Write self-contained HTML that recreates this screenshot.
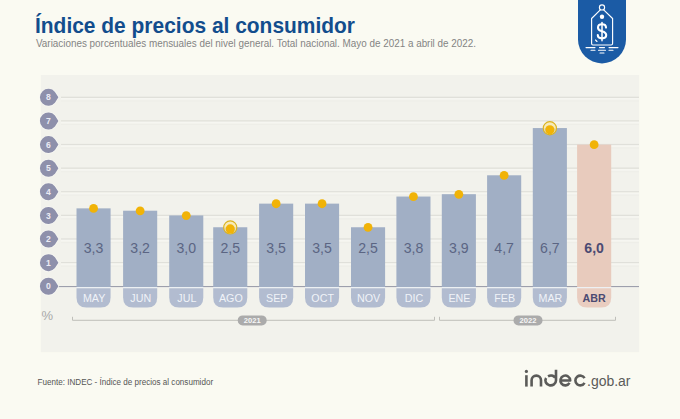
<!DOCTYPE html>
<html><head><meta charset="utf-8"><title>IPC</title>
<style>
html,body{margin:0;padding:0;background:#fafaf2;}
body{width:680px;height:419px;overflow:hidden;position:relative;font-family:"Liberation Sans",sans-serif;}
svg{position:absolute;left:0;top:0;display:block}
text{font-family:"Liberation Sans",sans-serif;}
</style></head><body>
<svg width="680" height="419" viewBox="0 0 680 419">
<defs><filter id="b" x="-5%" y="-5%" width="110%" height="110%"><feGaussianBlur stdDeviation="0.6"/></filter></defs>
<rect width="680" height="419" fill="#fafaf2"/>
<rect x="40.8" y="75" width="598.4" height="277.2" fill="#f2f2ec" filter="url(#b)"/>
<text x="35" y="33" font-size="22.2" font-weight="bold" fill="#124d8d" textLength="320" lengthAdjust="spacingAndGlyphs">Índice de precios al consumidor</text>
<text x="36" y="47.3" font-size="10.1" fill="#848484" textLength="440" lengthAdjust="spacingAndGlyphs">Variaciones porcentuales mensuales del nivel general. Total nacional. Mayo de 2021 a abril de 2022.</text>

<rect x="61" y="261.98" width="578" height="1.4" fill="#e0e0da"/><rect x="61" y="263.38" width="578" height="1.6" fill="#f6f6f1"/><rect x="61" y="265.68" width="578" height="1" fill="#eeeee8"/>
<rect x="61" y="238.36" width="578" height="1.4" fill="#e0e0da"/><rect x="61" y="239.76" width="578" height="1.6" fill="#f6f6f1"/><rect x="61" y="242.06" width="578" height="1" fill="#eeeee8"/>
<rect x="61" y="214.74" width="578" height="1.4" fill="#e0e0da"/><rect x="61" y="216.14" width="578" height="1.6" fill="#f6f6f1"/><rect x="61" y="218.44" width="578" height="1" fill="#eeeee8"/>
<rect x="61" y="191.12" width="578" height="1.4" fill="#e0e0da"/><rect x="61" y="192.52" width="578" height="1.6" fill="#f6f6f1"/><rect x="61" y="194.82" width="578" height="1" fill="#eeeee8"/>
<rect x="61" y="167.50" width="578" height="1.4" fill="#e0e0da"/><rect x="61" y="168.90" width="578" height="1.6" fill="#f6f6f1"/><rect x="61" y="171.20" width="578" height="1" fill="#eeeee8"/>
<rect x="61" y="143.88" width="578" height="1.4" fill="#e0e0da"/><rect x="61" y="145.28" width="578" height="1.6" fill="#f6f6f1"/><rect x="61" y="147.58" width="578" height="1" fill="#eeeee8"/>
<rect x="61" y="120.26" width="578" height="1.4" fill="#e0e0da"/><rect x="61" y="121.66" width="578" height="1.6" fill="#f6f6f1"/><rect x="61" y="123.96" width="578" height="1" fill="#eeeee8"/>
<rect x="61" y="96.64" width="578" height="1.4" fill="#e0e0da"/><rect x="61" y="98.04" width="578" height="1.6" fill="#f6f6f1"/><rect x="61" y="100.34" width="578" height="1" fill="#eeeee8"/>
<rect x="57" y="286.0" width="582" height="1.1" fill="#9d9fac"/>
<rect x="76.50" y="208.35" width="34.1" height="78.75" fill="#a1afc5"/>
<rect x="76.50" y="287.1" width="34.1" height="1.2" fill="#eef1f6"/>
<path d="M76.50 288.2 H110.60 V297.6 Q110.60 307.6 100.60 307.6 H86.50 Q76.50 307.6 76.50 297.6 Z" fill="#b2bcd0"/>
<text x="94.15" y="301.6" font-size="10.7" fill="#f0f3f8" text-anchor="middle">MAY</text>
<text x="93.55" y="253.0" font-size="14.1" fill="#5b6583" text-anchor="middle">3,3</text>
<rect x="123.10" y="210.72" width="34.1" height="76.38" fill="#a1afc5"/>
<rect x="123.10" y="287.1" width="34.1" height="1.2" fill="#eef1f6"/>
<path d="M123.10 288.2 H157.20 V297.6 Q157.20 307.6 147.20 307.6 H133.10 Q123.10 307.6 123.10 297.6 Z" fill="#b2bcd0"/>
<text x="140.75" y="301.6" font-size="10.7" fill="#f0f3f8" text-anchor="middle">JUN</text>
<text x="140.15" y="253.0" font-size="14.1" fill="#5b6583" text-anchor="middle">3,2</text>
<rect x="169.20" y="215.44" width="34.1" height="71.66" fill="#a1afc5"/>
<rect x="169.20" y="287.1" width="34.1" height="1.2" fill="#eef1f6"/>
<path d="M169.20 288.2 H203.30 V297.6 Q203.30 307.6 193.30 307.6 H179.20 Q169.20 307.6 169.20 297.6 Z" fill="#b2bcd0"/>
<text x="186.85" y="301.6" font-size="10.7" fill="#f0f3f8" text-anchor="middle">JUL</text>
<text x="186.25" y="253.0" font-size="14.1" fill="#5b6583" text-anchor="middle">3,0</text>
<rect x="213.20" y="227.25" width="34.1" height="59.85" fill="#a1afc5"/>
<rect x="213.20" y="287.1" width="34.1" height="1.2" fill="#eef1f6"/>
<path d="M213.20 288.2 H247.30 V297.6 Q247.30 307.6 237.30 307.6 H223.20 Q213.20 307.6 213.20 297.6 Z" fill="#b2bcd0"/>
<text x="230.85" y="301.6" font-size="10.7" fill="#f0f3f8" text-anchor="middle">AGO</text>
<text x="230.25" y="253.0" font-size="14.1" fill="#5b6583" text-anchor="middle">2,5</text>
<rect x="259.10" y="203.63" width="34.1" height="83.47" fill="#a1afc5"/>
<rect x="259.10" y="287.1" width="34.1" height="1.2" fill="#eef1f6"/>
<path d="M259.10 288.2 H293.20 V297.6 Q293.20 307.6 283.20 307.6 H269.10 Q259.10 307.6 259.10 297.6 Z" fill="#b2bcd0"/>
<text x="276.75" y="301.6" font-size="10.7" fill="#f0f3f8" text-anchor="middle">SEP</text>
<text x="276.15" y="253.0" font-size="14.1" fill="#5b6583" text-anchor="middle">3,5</text>
<rect x="305.00" y="203.63" width="34.1" height="83.47" fill="#a1afc5"/>
<rect x="305.00" y="287.1" width="34.1" height="1.2" fill="#eef1f6"/>
<path d="M305.00 288.2 H339.10 V297.6 Q339.10 307.6 329.10 307.6 H315.00 Q305.00 307.6 305.00 297.6 Z" fill="#b2bcd0"/>
<text x="322.65" y="301.6" font-size="10.7" fill="#f0f3f8" text-anchor="middle">OCT</text>
<text x="322.05" y="253.0" font-size="14.1" fill="#5b6583" text-anchor="middle">3,5</text>
<rect x="351.00" y="227.25" width="34.1" height="59.85" fill="#a1afc5"/>
<rect x="351.00" y="287.1" width="34.1" height="1.2" fill="#eef1f6"/>
<path d="M351.00 288.2 H385.10 V297.6 Q385.10 307.6 375.10 307.6 H361.00 Q351.00 307.6 351.00 297.6 Z" fill="#b2bcd0"/>
<text x="368.65" y="301.6" font-size="10.7" fill="#f0f3f8" text-anchor="middle">NOV</text>
<text x="368.05" y="253.0" font-size="14.1" fill="#5b6583" text-anchor="middle">2,5</text>
<rect x="396.40" y="196.54" width="34.1" height="90.56" fill="#a1afc5"/>
<rect x="396.40" y="287.1" width="34.1" height="1.2" fill="#eef1f6"/>
<path d="M396.40 288.2 H430.50 V297.6 Q430.50 307.6 420.50 307.6 H406.40 Q396.40 307.6 396.40 297.6 Z" fill="#b2bcd0"/>
<text x="414.05" y="301.6" font-size="10.7" fill="#f0f3f8" text-anchor="middle">DIC</text>
<text x="413.45" y="253.0" font-size="14.1" fill="#5b6583" text-anchor="middle">3,8</text>
<rect x="441.80" y="194.18" width="34.1" height="92.92" fill="#a1afc5"/>
<rect x="441.80" y="287.1" width="34.1" height="1.2" fill="#eef1f6"/>
<path d="M441.80 288.2 H475.90 V297.6 Q475.90 307.6 465.90 307.6 H451.80 Q441.80 307.6 441.80 297.6 Z" fill="#b2bcd0"/>
<text x="459.45" y="301.6" font-size="10.7" fill="#f0f3f8" text-anchor="middle">ENE</text>
<text x="458.85" y="253.0" font-size="14.1" fill="#5b6583" text-anchor="middle">3,9</text>
<rect x="487.10" y="175.29" width="34.1" height="111.81" fill="#a1afc5"/>
<rect x="487.10" y="287.1" width="34.1" height="1.2" fill="#eef1f6"/>
<path d="M487.10 288.2 H521.20 V297.6 Q521.20 307.6 511.20 307.6 H497.10 Q487.10 307.6 487.10 297.6 Z" fill="#b2bcd0"/>
<text x="504.75" y="301.6" font-size="10.7" fill="#f0f3f8" text-anchor="middle">FEB</text>
<text x="504.15" y="253.0" font-size="14.1" fill="#5b6583" text-anchor="middle">4,7</text>
<rect x="532.80" y="128.05" width="34.1" height="159.05" fill="#a1afc5"/>
<rect x="532.80" y="287.1" width="34.1" height="1.2" fill="#eef1f6"/>
<path d="M532.80 288.2 H566.90 V297.6 Q566.90 307.6 556.90 307.6 H542.80 Q532.80 307.6 532.80 297.6 Z" fill="#b2bcd0"/>
<text x="550.45" y="301.6" font-size="10.7" fill="#f0f3f8" text-anchor="middle">MAR</text>
<text x="549.85" y="253.0" font-size="14.1" fill="#5b6583" text-anchor="middle">6,7</text>
<rect x="577.10" y="144.58" width="34.1" height="142.52" fill="#e8cbbd"/>
<rect x="577.10" y="287.1" width="34.1" height="1.2" fill="#eef1f6"/>
<path d="M577.10 288.2 H611.20 V297.6 Q611.20 307.6 601.20 307.6 H587.10 Q577.10 307.6 577.10 297.6 Z" fill="#e9cdc0"/>
<text x="594.15" y="301.6" font-size="10.7" font-weight="bold" fill="#4b4a72" text-anchor="middle">ABR</text>
<text x="594.15" y="253.0" font-size="14.1" font-weight="bold" fill="#4b4a72" text-anchor="middle">6,0</text>
<circle cx="93.55" cy="208.45" r="4.4" fill="#f1b307"/>
<circle cx="140.15" cy="210.82" r="4.4" fill="#f1b307"/>
<circle cx="186.25" cy="215.54" r="4.4" fill="#f1b307"/>
<circle cx="230.25" cy="227.45" r="6.6" fill="#f6e9ae" fill-opacity="0.8" stroke="#dbb21e" stroke-width="1.1"/>
<circle cx="230.25" cy="228.95" r="4.6" fill="#f1b307"/>
<circle cx="276.15" cy="203.73" r="4.4" fill="#f1b307"/>
<circle cx="322.05" cy="203.73" r="4.4" fill="#f1b307"/>
<circle cx="368.05" cy="227.35" r="4.4" fill="#f1b307"/>
<circle cx="413.45" cy="196.64" r="4.4" fill="#f1b307"/>
<circle cx="458.85" cy="194.28" r="4.4" fill="#f1b307"/>
<circle cx="504.15" cy="175.39" r="4.4" fill="#f1b307"/>
<circle cx="549.85" cy="128.25" r="6.6" fill="#f6e9ae" fill-opacity="0.8" stroke="#dbb21e" stroke-width="1.1"/>
<circle cx="549.85" cy="129.75" r="4.6" fill="#f1b307"/>
<circle cx="594.15" cy="144.68" r="4.4" fill="#f1b307"/>
<path d="M58.4 286.30 L54.95 280.86 A8.5 8.5 0 1 0 54.95 291.74 Z" fill="#8e90ab" stroke="#f8f8f4" stroke-width="1.4" paint-order="stroke"/>
<text x="48.40" y="289.40" font-size="8.6" font-weight="bold" fill="#ebebf4" text-anchor="middle">0</text>
<path d="M58.4 262.68 L54.95 257.24 A8.5 8.5 0 1 0 54.95 268.12 Z" fill="#8e90ab" stroke="#f8f8f4" stroke-width="1.4" paint-order="stroke"/>
<text x="48.40" y="265.78" font-size="8.6" font-weight="bold" fill="#ebebf4" text-anchor="middle">1</text>
<path d="M58.4 239.06 L54.95 233.62 A8.5 8.5 0 1 0 54.95 244.50 Z" fill="#8e90ab" stroke="#f8f8f4" stroke-width="1.4" paint-order="stroke"/>
<text x="48.40" y="242.16" font-size="8.6" font-weight="bold" fill="#ebebf4" text-anchor="middle">2</text>
<path d="M58.4 215.44 L54.95 210.00 A8.5 8.5 0 1 0 54.95 220.88 Z" fill="#8e90ab" stroke="#f8f8f4" stroke-width="1.4" paint-order="stroke"/>
<text x="48.40" y="218.54" font-size="8.6" font-weight="bold" fill="#ebebf4" text-anchor="middle">3</text>
<path d="M58.4 191.82 L54.95 186.38 A8.5 8.5 0 1 0 54.95 197.26 Z" fill="#8e90ab" stroke="#f8f8f4" stroke-width="1.4" paint-order="stroke"/>
<text x="48.40" y="194.92" font-size="8.6" font-weight="bold" fill="#ebebf4" text-anchor="middle">4</text>
<path d="M58.4 168.20 L54.95 162.76 A8.5 8.5 0 1 0 54.95 173.64 Z" fill="#8e90ab" stroke="#f8f8f4" stroke-width="1.4" paint-order="stroke"/>
<text x="48.40" y="171.30" font-size="8.6" font-weight="bold" fill="#ebebf4" text-anchor="middle">5</text>
<path d="M58.4 144.58 L54.95 139.14 A8.5 8.5 0 1 0 54.95 150.02 Z" fill="#8e90ab" stroke="#f8f8f4" stroke-width="1.4" paint-order="stroke"/>
<text x="48.40" y="147.68" font-size="8.6" font-weight="bold" fill="#ebebf4" text-anchor="middle">6</text>
<path d="M58.4 120.96 L54.95 115.52 A8.5 8.5 0 1 0 54.95 126.40 Z" fill="#8e90ab" stroke="#f8f8f4" stroke-width="1.4" paint-order="stroke"/>
<text x="48.40" y="124.06" font-size="8.6" font-weight="bold" fill="#ebebf4" text-anchor="middle">7</text>
<path d="M58.4 97.34 L54.95 91.90 A8.5 8.5 0 1 0 54.95 102.78 Z" fill="#8e90ab" stroke="#f8f8f4" stroke-width="1.4" paint-order="stroke"/>
<text x="48.40" y="100.44" font-size="8.6" font-weight="bold" fill="#ebebf4" text-anchor="middle">8</text>
<text x="41.5" y="320" font-size="13" fill="#a9a9a9">%</text>
<path d="M72.5 316.8 V320.3 H434.5 V316.8" fill="none" stroke="#bfbfba" stroke-width="1"/>
<path d="M439.5 316.8 V320.3 H615.5 V316.8" fill="none" stroke="#bfbfba" stroke-width="1"/>
<rect x="237.7" y="315.4" width="29" height="10" rx="5" fill="#ababab"/>
<text x="252.2" y="323.2" font-size="7.6" font-weight="bold" fill="#f6f6f6" text-anchor="middle">2021</text>
<rect x="513.5" y="315.4" width="29" height="10" rx="5" fill="#ababab"/>
<text x="528" y="323.2" font-size="7.6" font-weight="bold" fill="#f6f6f6" text-anchor="middle">2022</text>
<text x="37.6" y="384.6" font-size="8.5" fill="#555" textLength="175.5" lengthAdjust="spacingAndGlyphs">Fuente: INDEC - Índice de precios al consumidor</text>
<path d="M578 0 H626 V39.4 A24 24 0 0 1 578 39.4 Z" fill="#1b5ba5"/>
<g fill="none" stroke="#fff" stroke-width="1.15" stroke-linecap="round" stroke-linejoin="round">
<circle cx="602" cy="7.4" r="2.6"/>
<path d="M600.3 9.8 L591.6 18.5 V43.5 Q591.6 45 593 45 H611 Q612.6 45 612.6 43.5 V18.5 L603.7 9.8"/>
<path d="M586 47.6 H595 M599.5 47.6 H604.5 M609 47.6 H618 M591 50.2 H595 M598.5 50.2 H605.5 M609 50.2 H613 M600 53 H604" stroke-width="1.1"/>
<path d="M595.5 40 L597 41.5" />
</g>
<circle cx="602" cy="16.8" r="2.2" fill="#fff"/>
<path d="M606 27.6 C606 25.3 604.3 24.3 602 24.3 C599.6 24.3 598 25.6 598 27.7 C598 29.9 599.8 30.7 602 31.3 C604.4 32 606.2 32.8 606.2 35.1 C606.2 37.3 604.4 38.4 602 38.4 C599.5 38.4 597.8 37.3 597.8 35.1" fill="none" stroke="#fff" stroke-width="2.1" stroke-linecap="round"/>
<path d="M602 22.6 V40.8" stroke="#fff" stroke-width="1.5" stroke-linecap="round"/>

<g fill="none" stroke="#5b5b59" stroke-width="2.6" stroke-linejoin="round">
<path d="M526.4 375.2 V386.6"/>
<path d="M531.6 386.6 V380.3 A4.7 4.7 0 0 1 541 380.3 V386.6"/>
<path d="M556 369.8 V380.5 A5.3 4.9 0 1 1 546.1 378.05"/>
<path d="M548.05 376.26 A5.3 4.9 0 0 1 555.2 377.6"/>
<path d="M560.4 380.5 H570.2 A4.9 4.9 0 1 0 569.54 382.95"/>
<path d="M584.54 378.05 A4.9 4.9 0 1 0 584.54 382.95"/>
</g>
<circle cx="526.4" cy="371.4" r="1.6" fill="#5b5b59"/>
<text x="587" y="385.7" font-size="13.8" fill="#5b5b59" textLength="43.5" lengthAdjust="spacingAndGlyphs">.gob.ar</text>

</svg></body></html>
